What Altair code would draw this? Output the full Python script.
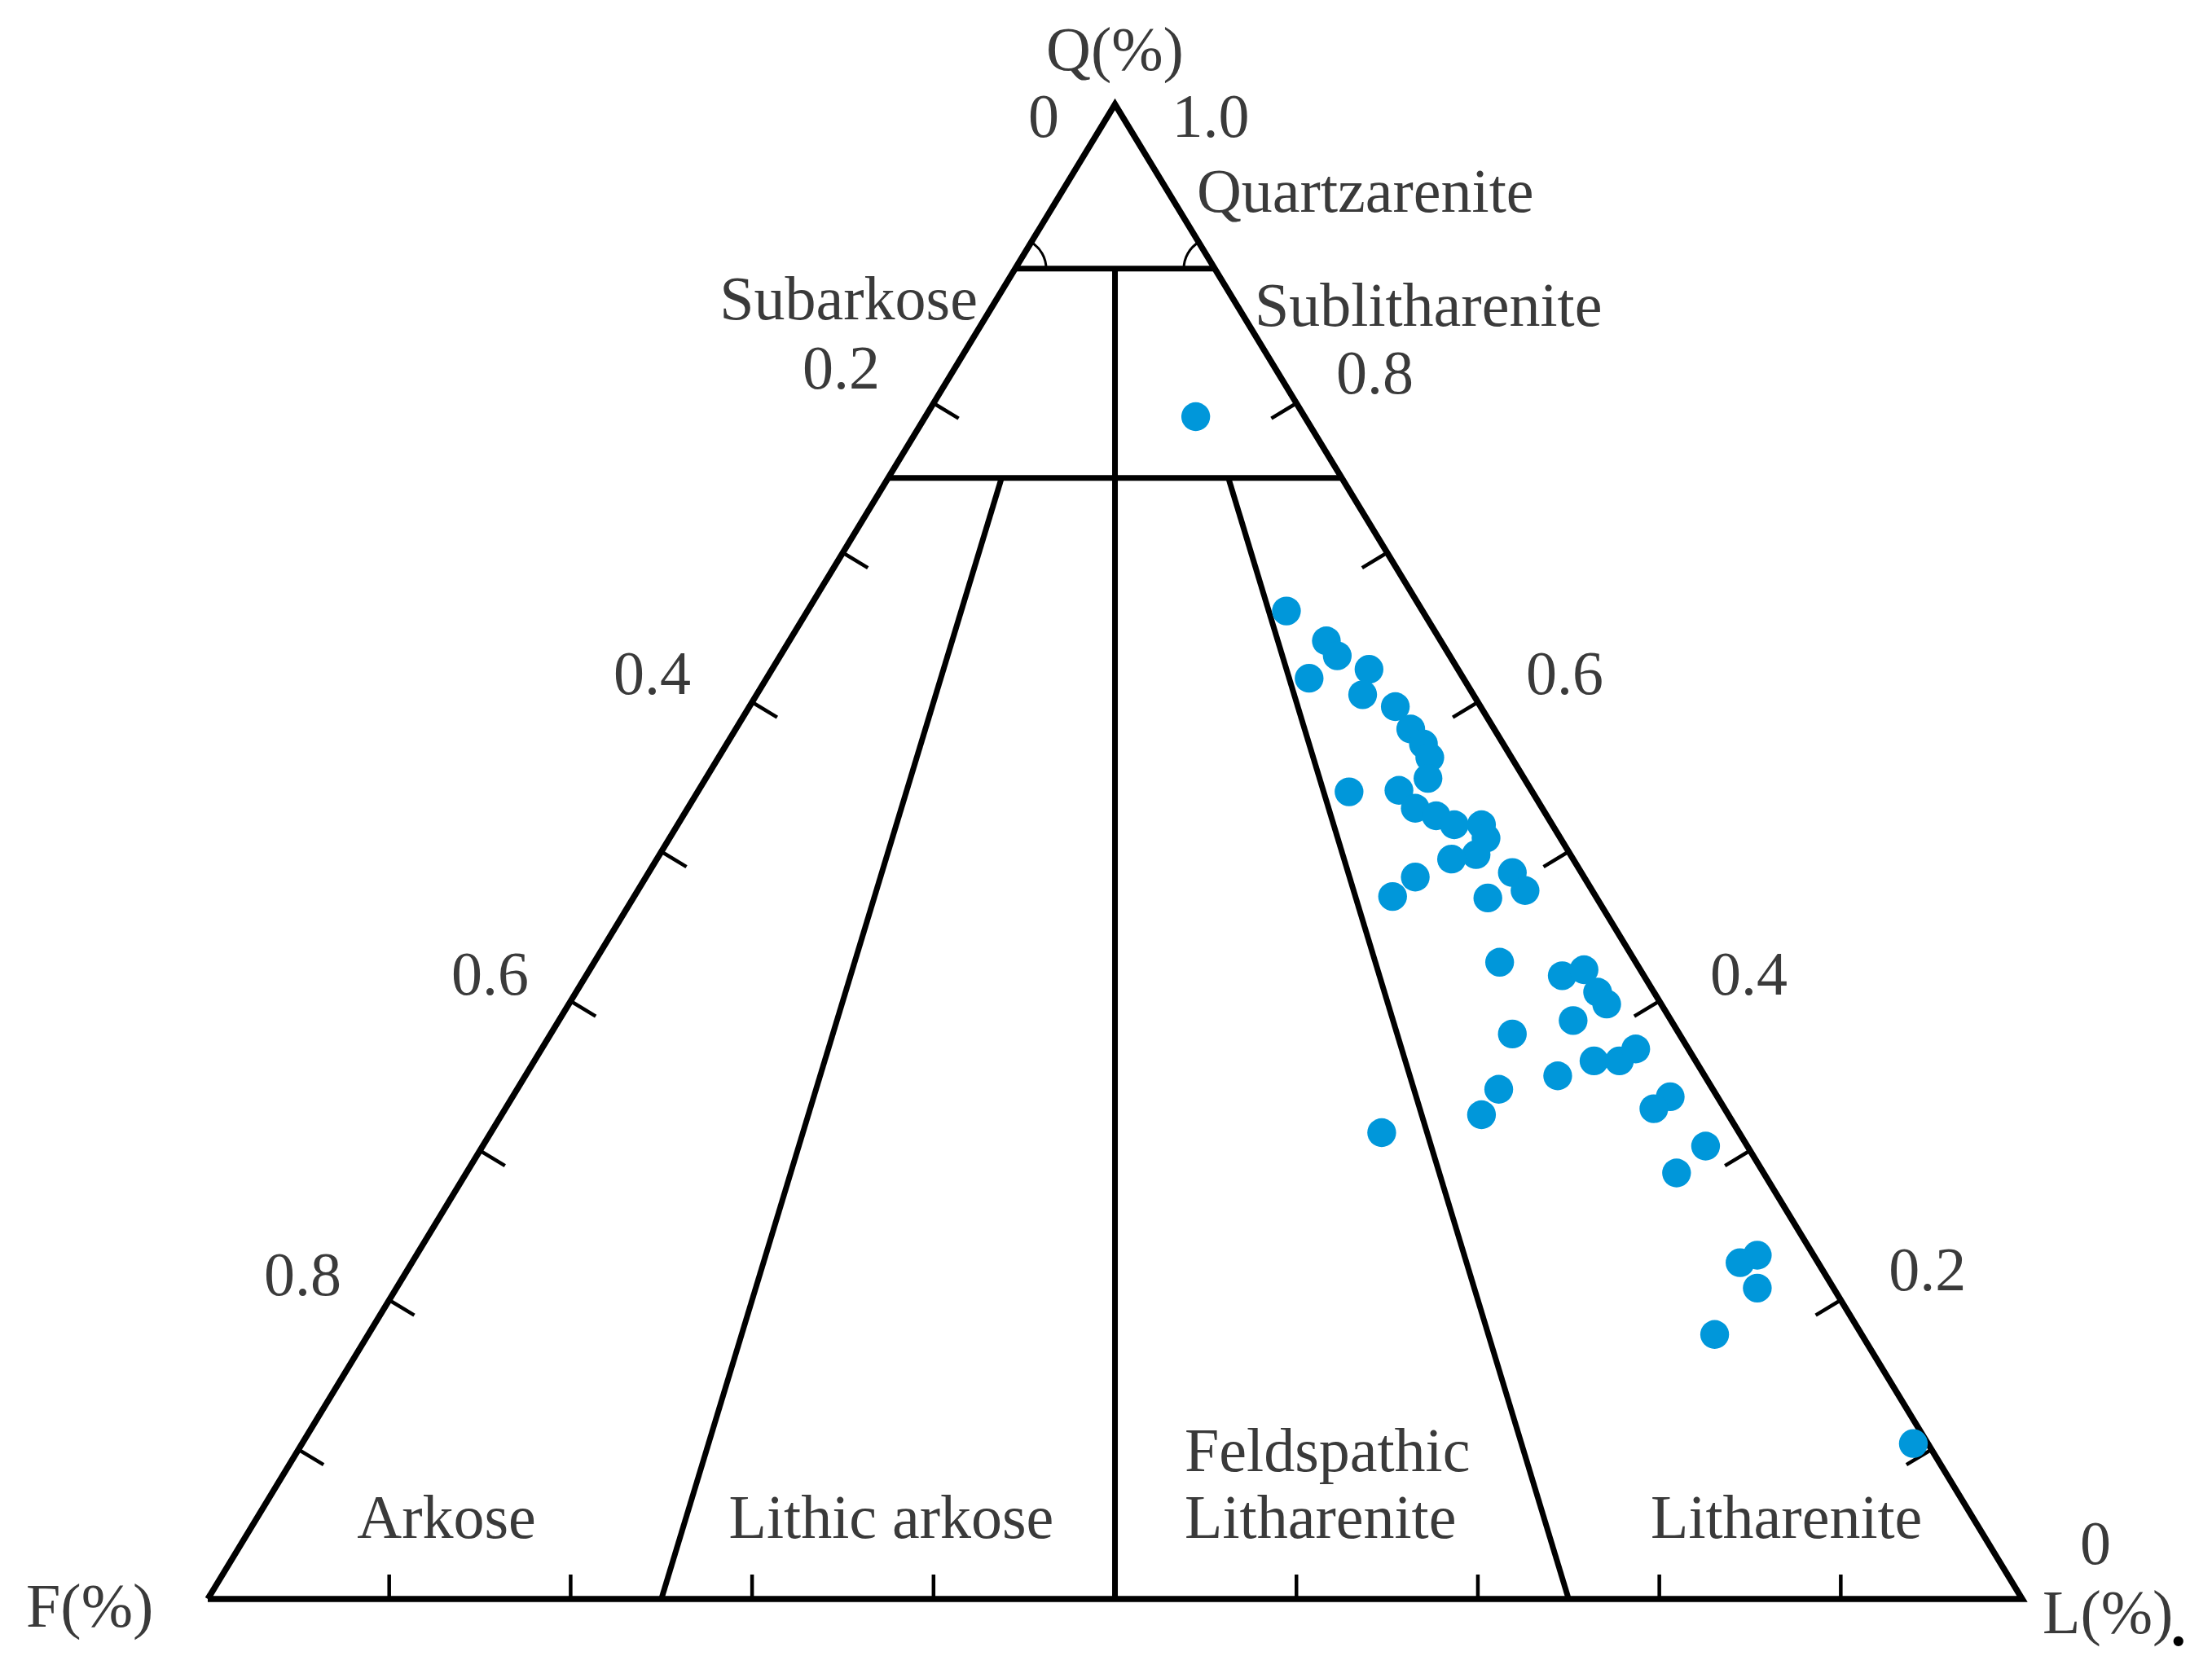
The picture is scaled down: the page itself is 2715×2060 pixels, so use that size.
import altair as alt
import pandas as pd
import numpy as np

# ---------------- data: sandstone compositions (fractions) ----------------
Q = [0.791, 0.661, 0.641, 0.631, 0.616, 0.622, 0.605, 0.597, 0.582, 0.572,
     0.563, 0.549, 0.540, 0.541, 0.529, 0.524, 0.518, 0.518, 0.509, 0.498,
     0.495, 0.486, 0.474, 0.469, 0.483, 0.470, 0.426, 0.417, 0.421, 0.406,
     0.398, 0.387, 0.378, 0.360, 0.360, 0.368, 0.350, 0.341, 0.324, 0.312,
     0.336, 0.328, 0.303, 0.285, 0.230, 0.225, 0.208, 0.177, 0.104]
F = [0.061, 0.075, 0.063, 0.062, 0.085, 0.049, 0.061, 0.047, 0.046, 0.044,
     0.045, 0.053, 0.101, 0.073, 0.070, 0.061, 0.054, 0.039, 0.041, 0.052,
     0.067, 0.038, 0.037, 0.060, 0.093, 0.112, 0.075, 0.045, 0.031, 0.031,
     0.030, 0.054, 0.092, 0.056, 0.042, 0.029, 0.081, 0.118, 0.136, 0.197,
     0.026, 0.039, 0.023, 0.048, 0.031, 0.043, 0.042, 0.081, 0.008]
L = [0.149, 0.264, 0.296, 0.307, 0.299, 0.329, 0.334, 0.356, 0.372, 0.384,
     0.392, 0.398, 0.359, 0.386, 0.401, 0.415, 0.428, 0.443, 0.450, 0.450,
     0.438, 0.476, 0.489, 0.471, 0.424, 0.418, 0.499, 0.538, 0.548, 0.563,
     0.572, 0.559, 0.530, 0.584, 0.598, 0.603, 0.569, 0.541, 0.540, 0.491,
     0.638, 0.633, 0.674, 0.667, 0.739, 0.732, 0.750, 0.742, 0.888]

# classification boundaries (Folk)
Q_LINES = [0.89, 0.75]          # quartz limits as drawn
FL_RATIOS = [0.25, 0.5, 0.75]   # L/(F+L) boundaries

# tick values
LEFT_TICKS_F = [0.2, 0.3, 0.4, 0.5, 0.6, 0.7, 0.8, 0.9]
RIGHT_TICKS_Q = [0.8, 0.7, 0.6, 0.5, 0.4, 0.3, 0.2, 0.1]
BOTTOM_TICKS_L = [0.1, 0.2, 0.3, 0.4, 0.6, 0.7, 0.8, 0.9]

# tick labels
LEFT_LABELS = ["0.2", "0.4", "0.6", "0.8"]
RIGHT_LABELS = ["0.8", "0.6", "0.4", "0.2"]

# ---------------- layout constants ----------------
W, H = 2699, 2044
XD = [-0.1109, 1.1010]
YD = [-0.0485, 1.0654]
PXU = W / (XD[1] - XD[0])
PXV = H / (YD[1] - YD[0])

xs = alt.Scale(domain=XD, nice=False, zero=False)
ys = alt.Scale(domain=YD, nice=False, zero=False)

TEXT_COLOR = "#3a3a3a"
FONT = "Liberation Serif"
FS = 76

def tern(q, l):
    return l + q / 2.0, q

# ---------------- triangle outline ----------------
tri = pd.DataFrame({"q": [0, 1, 0, 0], "l": [0, 0, 1, 0], "o": [0, 1, 2, 3]})
outline = alt.Chart(tri).transform_calculate(
    u="datum.l + datum.q/2", v="datum.q"
).mark_line(color="black", strokeWidth=7.5, strokeJoin="miter", strokeMiterLimit=20).encode(
    x=alt.X("u:Q", scale=xs, axis=None),
    y=alt.Y("v:Q", scale=ys, axis=None),
    order="o:O",
)

# ---------------- internal boundary lines ----------------
segs = []
qt, qm = Q_LINES
segs.append((qt, 0.0, qt, 1 - qt))                 # top Q line
segs.append((qm, 0.0, qm, 1 - qm))                 # Q=0.75 line
r = FL_RATIOS[1]
segs.append((qt, (1 - qt) * r, 0.0, r))            # centre line
for r in (FL_RATIOS[0], FL_RATIOS[2]):
    segs.append((qm, (1 - qm) * r, 0.0, r))
seg_df = pd.DataFrame(segs, columns=["q1", "l1", "q2", "l2"])
seg_df["u1"], seg_df["v1"] = tern(seg_df.q1, seg_df.l1)
seg_df["u2"], seg_df["v2"] = tern(seg_df.q2, seg_df.l2)
inner = alt.Chart(seg_df).mark_rule(color="black", strokeWidth=7).encode(
    x=alt.X("u1:Q", scale=xs, axis=None), y=alt.Y("v1:Q", scale=ys, axis=None),
    x2="u2:Q", y2="v2:Q",
)

# ---------------- ticks ----------------
edge = np.array([1113.0, -1835.0]); edge /= np.linalg.norm(edge)
nx, ny = -edge[1], edge[0]   # inward normal of left edge (screen coords)
TL_SIDE, TL_BOT = 36, 30
rows = []
for f in LEFT_TICKS_F:
    u0, v0 = tern(1 - f, 0.0)
    rows.append((u0, v0, u0 + nx * TL_SIDE / PXU, v0 - ny * TL_SIDE / PXV))
for q in RIGHT_TICKS_Q:
    u0, v0 = tern(q, 1 - q)
    rows.append((u0, v0, u0 - nx * TL_SIDE / PXU, v0 - ny * TL_SIDE / PXV))
for l in BOTTOM_TICKS_L:
    u0, v0 = tern(0.0, l)
    rows.append((u0, v0, u0, v0 + TL_BOT / PXV))
tick_df = pd.DataFrame(rows, columns=["u1", "v1", "u2", "v2"])
ticks = alt.Chart(tick_df).mark_rule(color="black", strokeWidth=4.5).encode(
    x=alt.X("u1:Q", scale=xs, axis=None), y=alt.Y("v1:Q", scale=ys, axis=None),
    x2="u2:Q", y2="v2:Q",
)

# ---------------- angle arcs at top corners ----------------
a_edge = float(np.arctan2(edge[0], -edge[1]))
arc_df = pd.DataFrame({
    "u": [tern(qt, 0.0)[0], tern(qt, 1 - qt)[0]],
    "v": [qt, qt],
    "t1": [a_edge, 1.5 * np.pi],
    "t2": [0.5 * np.pi, 2 * np.pi - a_edge],
})
arcs = alt.Chart(arc_df).mark_arc(filled=False, stroke="black", strokeWidth=3, radius=38).encode(
    x=alt.X("u:Q", scale=xs, axis=None), y=alt.Y("v:Q", scale=ys, axis=None),
    theta=alt.Theta("t1:Q", scale=None), theta2="t2:Q",
)

# ---------------- sample points ----------------
pts = pd.DataFrame({"Q": Q, "F": F, "L": L})
points = alt.Chart(pts).transform_calculate(
    u="datum.L + datum.Q/2", v="datum.Q"
).mark_circle(size=1250, color="#0097da", opacity=1).encode(
    x=alt.X("u:Q", scale=xs, axis=None), y=alt.Y("v:Q", scale=ys, axis=None),
)

# ---------------- text ----------------
labels = [
    ("Q(%)", 0.5000, 1.0229, "center"),
    ("0", 0.4607, 0.9782, "center"),
    ("1.0", 0.5528, 0.9782, "center"),
    ("Quartzarenite", 0.5451, 0.9281, "left"),
    ("Subarkose", 0.4243, 0.8561, "right"),
    ("Sublitharenite", 0.5770, 0.8518, "left"),
    (LEFT_LABELS[0], 0.3705, 0.8098, "right"),
    (LEFT_LABELS[1], 0.2663, 0.6054, "right"),
    (LEFT_LABELS[2], 0.1769, 0.4044, "right"),
    (LEFT_LABELS[3], 0.0736, 0.2033, "right"),
    (RIGHT_LABELS[0], 0.6219, 0.8065, "left"),
    (RIGHT_LABELS[1], 0.7265, 0.6054, "left"),
    (RIGHT_LABELS[2], 0.8280, 0.4044, "left"),
    (RIGHT_LABELS[3], 0.9264, 0.2065, "left"),
    ("0", 1.0319, 0.0234, "left"),
    ("L(%)", 1.0112, -0.0229, "left"),
    ("F(%)", -0.1001, -0.0185, "left"),
    ("Arkose", 0.1316, 0.0409, "center"),
    ("Lithic arkose", 0.3767, 0.0409, "center"),
    ("Feldspathic", 0.5384, 0.0856, "left"),
    ("Litharenite", 0.5384, 0.0409, "left"),
    ("Litharenite", 0.7952, 0.0409, "left"),
]
lab_df = pd.DataFrame(labels, columns=["text", "u", "v", "align"])

text_layers = []
for al in ["left", "center", "right"]:
    text_layers.append(
        alt.Chart(lab_df).transform_filter(alt.datum.align == al).mark_text(
            align=al, baseline="alphabetic", font=FONT, fontSize=FS, color=TEXT_COLOR
        ).encode(
            x=alt.X("u:Q", scale=xs, axis=None), y=alt.Y("v:Q", scale=ys, axis=None),
            text="text:N",
        )
    )

dot_df = pd.DataFrame({"text": ["."], "u": [1.0818], "v": [-0.0311]})
dot = alt.Chart(dot_df).mark_text(
    align="left", baseline="alphabetic", font=FONT, fontSize=FS, fontWeight="bold", color="black"
).encode(
    x=alt.X("u:Q", scale=xs, axis=None), y=alt.Y("v:Q", scale=ys, axis=None), text="text:N"
)

chart = alt.layer(
    inner, ticks, arcs, outline, points, *text_layers, dot
).properties(
    width=W, height=H, padding=0, autosize=alt.AutoSizeParams(type="none"), background="white"
).configure_view(stroke=None)

chart.save("out.html", embed_options={"renderer": "svg", "actions": False})
